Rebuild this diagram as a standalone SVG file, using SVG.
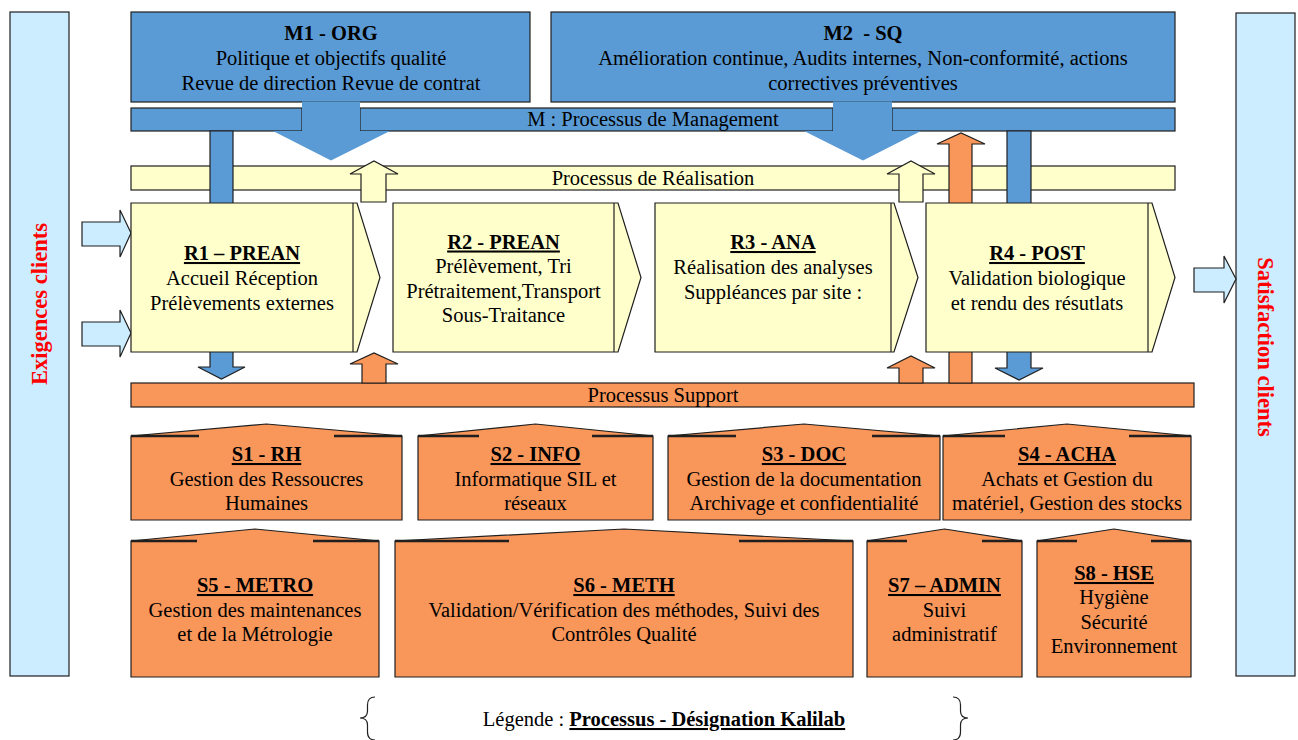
<svg xmlns="http://www.w3.org/2000/svg" width="1298" height="740" viewBox="0 0 1298 740">
<style>
.t{font-family:"Liberation Serif","Times New Roman",serif;font-size:20.5px;fill:#000;text-anchor:middle}
.h{font-weight:bold}
.u{font-weight:bold;text-decoration:underline}
.red{font-family:"Liberation Serif","Times New Roman",serif;font-size:22.5px;font-weight:bold;fill:#FF0000;text-anchor:middle}
.blue{fill:#5B9BD5;stroke:#1f1f1f;stroke-width:1.2}
.bluef{fill:#5B9BD5;stroke:none}
.org{fill:#F9965A;stroke:#1f1f1f;stroke-width:1.2}
.yel{fill:#FFFFCC;stroke:#1f1f1f;stroke-width:1.2}
.lb{fill:#CCECFF;stroke:#1f1f1f;stroke-width:1.2}
.seg{stroke:#1f1f1f;stroke-width:2.4;fill:none}
.ln{stroke:#1f1f1f;stroke-width:1.2;fill:none}
</style>
<rect width="1298" height="740" fill="#fff"/>

<g id="exigences-clients">
<rect class="lb" x="10" y="12" width="59" height="664"/>
<text class="red" transform="translate(46.5,304) rotate(-90)">Exigences clients</text>
</g>
<g id="satisfaction-clients">
<rect class="lb" x="1236" y="13" width="59" height="663"/>
<text class="red" transform="translate(1258,347) rotate(90)">Satisfaction clients</text>
</g>

<g id="M1">
<rect class="blue" x="131" y="12" width="399" height="90"/>
<text class="t h" x="331" y="39.5">M1 - ORG</text>
<text class="t" x="331" y="65">Politique et objectifs qualité</text>
<text class="t" x="331" y="89.5">Revue de direction Revue de contrat</text>
</g>
<g id="M2">
<rect class="blue" x="551" y="12" width="624" height="90"/>
<text class="t h" x="863" y="39.5" style="white-space:pre">M2  - SQ</text>
<text class="t" x="863" y="65">Amélioration continue, Audits internes, Non-conformité, actions</text>
<text class="t" x="863" y="89.5">correctives préventives</text>
</g>

<g id="management">
<rect class="blue" x="131" y="108" width="171" height="23"/>
<rect class="blue" x="360" y="108" width="473" height="23"/>
<rect class="blue" x="892" y="108" width="283" height="23"/>
<text class="t" x="653" y="126">M : Processus de Management</text>
</g>

<g id="realisation">
<rect class="yel" x="131" y="166" width="1044" height="24"/>
<text class="t" x="653" y="185">Processus de Réalisation</text>
</g>

<g id="support">
<rect class="org" x="131" y="383" width="1063" height="24"/>
<text class="t" x="663" y="402">Processus Support</text>
</g>

<g id="connectors">
<polygon class="bluef" points="302,101.5 360,101.5 360,131 390,131 331,160.5 273,131 302,131"/>
<polygon class="bluef" points="833,101.5 892,101.5 892,131 921,131 863,160.5 804,131 833,131"/>
<polygon class="blue" points="210,131 233,131 233,367 245,367 221.5,379 198,367 210,367"/>
<polygon class="blue" points="1007,131 1031,131 1031,368 1043,368 1019,380 995,368 1007,368"/>
<polygon class="org" points="949,383 949,144 937,144 961,133 985,144 972,144 972,383"/>
<polygon class="org" points="362,383 362,364 350,364 374,353 398,364 386,364 386,383"/>
<polygon class="org" points="899,383 899,368 887,368 911,356 935,368 923,368 923,383"/>
<polygon class="yel" points="361,202 361,174 350,174 374,161 398,174 386,174 386,202"/>
<polygon class="yel" points="899,202 899,174 887,174 911,161 935,174 923,174 923,202"/>
<polygon class="lb" points="82,222 120,222 120,210 131,233 120,257 120,246 82,246"/>
<polygon class="lb" points="82,322 120,322 120,310 131,333 120,357 120,346 82,346"/>
<polygon class="lb" points="1194,268 1224,268 1224,256 1236,279 1224,303 1224,292 1194,292"/>
</g>

<g id="R1">
<polygon class="yel" points="131,203 357,203 380,277.5 357,352 131,352"/>
<line class="ln" x1="353" y1="203" x2="353" y2="352"/>
<text class="t u" x="242" y="260">R1 – PREAN</text>
<text class="t" x="242" y="285">Accueil Réception</text>
<text class="t" x="242" y="309.5">Prélèvements externes</text>
</g>
<g id="R2">
<polygon class="yel" points="393,203 618,203 641,277.5 618,352 393,352"/>
<line class="ln" x1="614" y1="203" x2="614" y2="352"/>
<text class="t u" x="503.5" y="248.5">R2 - PREAN</text>
<text class="t" x="503.5" y="273">Prélèvement, Tri</text>
<text class="t" x="503.5" y="297.5">Prétraitement,Transport</text>
<text class="t" x="503.5" y="322">Sous-Traitance</text>
</g>
<g id="R3">
<polygon class="yel" points="655,203 894,203 918,277.5 894,352 655,352"/>
<line class="ln" x1="891" y1="203" x2="891" y2="352"/>
<text class="t u" x="773" y="249">R3 - ANA</text>
<text class="t" x="773" y="274">Réalisation des analyses</text>
<text class="t" x="773" y="298.5">Suppléances par site :</text>
</g>
<g id="R4">
<polygon class="yel" points="926,203 1152,203 1175,277.5 1152,352 926,352"/>
<line class="ln" x1="1148" y1="203" x2="1148" y2="352"/>
<text class="t u" x="1037" y="260">R4 - POST</text>
<text class="t" x="1037" y="285">Validation biologique</text>
<text class="t" x="1037" y="309.5">et rendu des résutlats</text>
</g>

<g id="S1">
<polygon class="org" points="131,520 131,436 266.5,424 402,436 402,520"/>
<path class="seg" d="M131,436H199M334,436H402"/>
<text class="t u" x="266.5" y="461">S1 - RH</text>
<text class="t" x="266.5" y="485.5">Gestion des Ressoucres</text>
<text class="t" x="266.5" y="510">Humaines</text>
</g>
<g id="S2">
<polygon class="org" points="418,520 418,436 535.5,424 653,436 653,520"/>
<path class="seg" d="M418,436H479M592,436H653"/>
<text class="t u" x="535.5" y="461">S2 - INFO</text>
<text class="t" x="535.5" y="485.5">Informatique SIL et</text>
<text class="t" x="535.5" y="510">réseaux</text>
</g>
<g id="S3">
<polygon class="org" points="668,520 668,436 804,424 940,436 940,520"/>
<path class="seg" d="M668,436H736M872,436H940"/>
<text class="t u" x="804" y="461">S3 - DOC</text>
<text class="t" x="804" y="485.5">Gestion de la documentation</text>
<text class="t" x="804" y="510">Archivage et confidentialité</text>
</g>
<g id="S4">
<polygon class="org" points="943,520 943,436 1067,424 1191,436 1191,520"/>
<path class="seg" d="M943,436H1005M1129,436H1191"/>
<text class="t u" x="1067" y="461">S4 - ACHA</text>
<text class="t" x="1067" y="485.5">Achats et Gestion du</text>
<text class="t" x="1067" y="510">matériel, Gestion des stocks</text>
</g>
<g id="S5">
<polygon class="org" points="131,677 131,541 255,529 379,541 379,677"/>
<path class="seg" d="M131,541H197M313,541H379"/>
<text class="t u" x="255" y="592">S5 - METRO</text>
<text class="t" x="255" y="616.5">Gestion des maintenances</text>
<text class="t" x="255" y="641">et de la Métrologie</text>
</g>
<g id="S6">
<polygon class="org" points="395,677 395,541 624,529 853,541 853,677"/>
<path class="seg" d="M395,541H509M739,541H853"/>
<text class="t u" x="624" y="592">S6 - METH</text>
<text class="t" x="624" y="616.5">Validation/Vérification des méthodes, Suivi des</text>
<text class="t" x="624" y="641">Contrôles Qualité</text>
</g>
<g id="S7">
<polygon class="org" points="867,677 867,541 944.5,529 1022,541 1022,677"/>
<path class="seg" d="M867,541H907M982,541H1022"/>
<text class="t u" x="944.5" y="592">S7 – ADMIN</text>
<text class="t" x="944.5" y="616.5">Suivi</text>
<text class="t" x="944.5" y="641">administratif</text>
</g>
<g id="S8">
<polygon class="org" points="1037,677 1037,541 1114,529 1191,541 1191,677"/>
<path class="seg" d="M1037,541H1077M1151,541H1191"/>
<text class="t u" x="1114" y="580">S8 - HSE</text>
<text class="t" x="1114" y="604">Hygiène</text>
<text class="t" x="1114" y="628.5">Sécurité</text>
<text class="t" x="1114" y="653">Environnement</text>
</g>

<g id="legend">
<path class="ln" stroke-width="1" d="M375,697 Q367.5,697 367.5,705 L367.5,711 Q367.5,718 360,718 Q367.5,718 367.5,725 L367.5,732 Q367.5,740 375,740"/>
<path class="ln" stroke-width="1" d="M953,697 Q960.5,697 960.5,705 L960.5,711 Q960.5,718 968,718 Q960.5,718 960.5,725 L960.5,732 Q960.5,740 953,740"/>
<text class="t" x="664" y="726"><tspan>Légende : </tspan><tspan class="u">Processus - Désignation Kalilab</tspan></text>
</g>
</svg>
